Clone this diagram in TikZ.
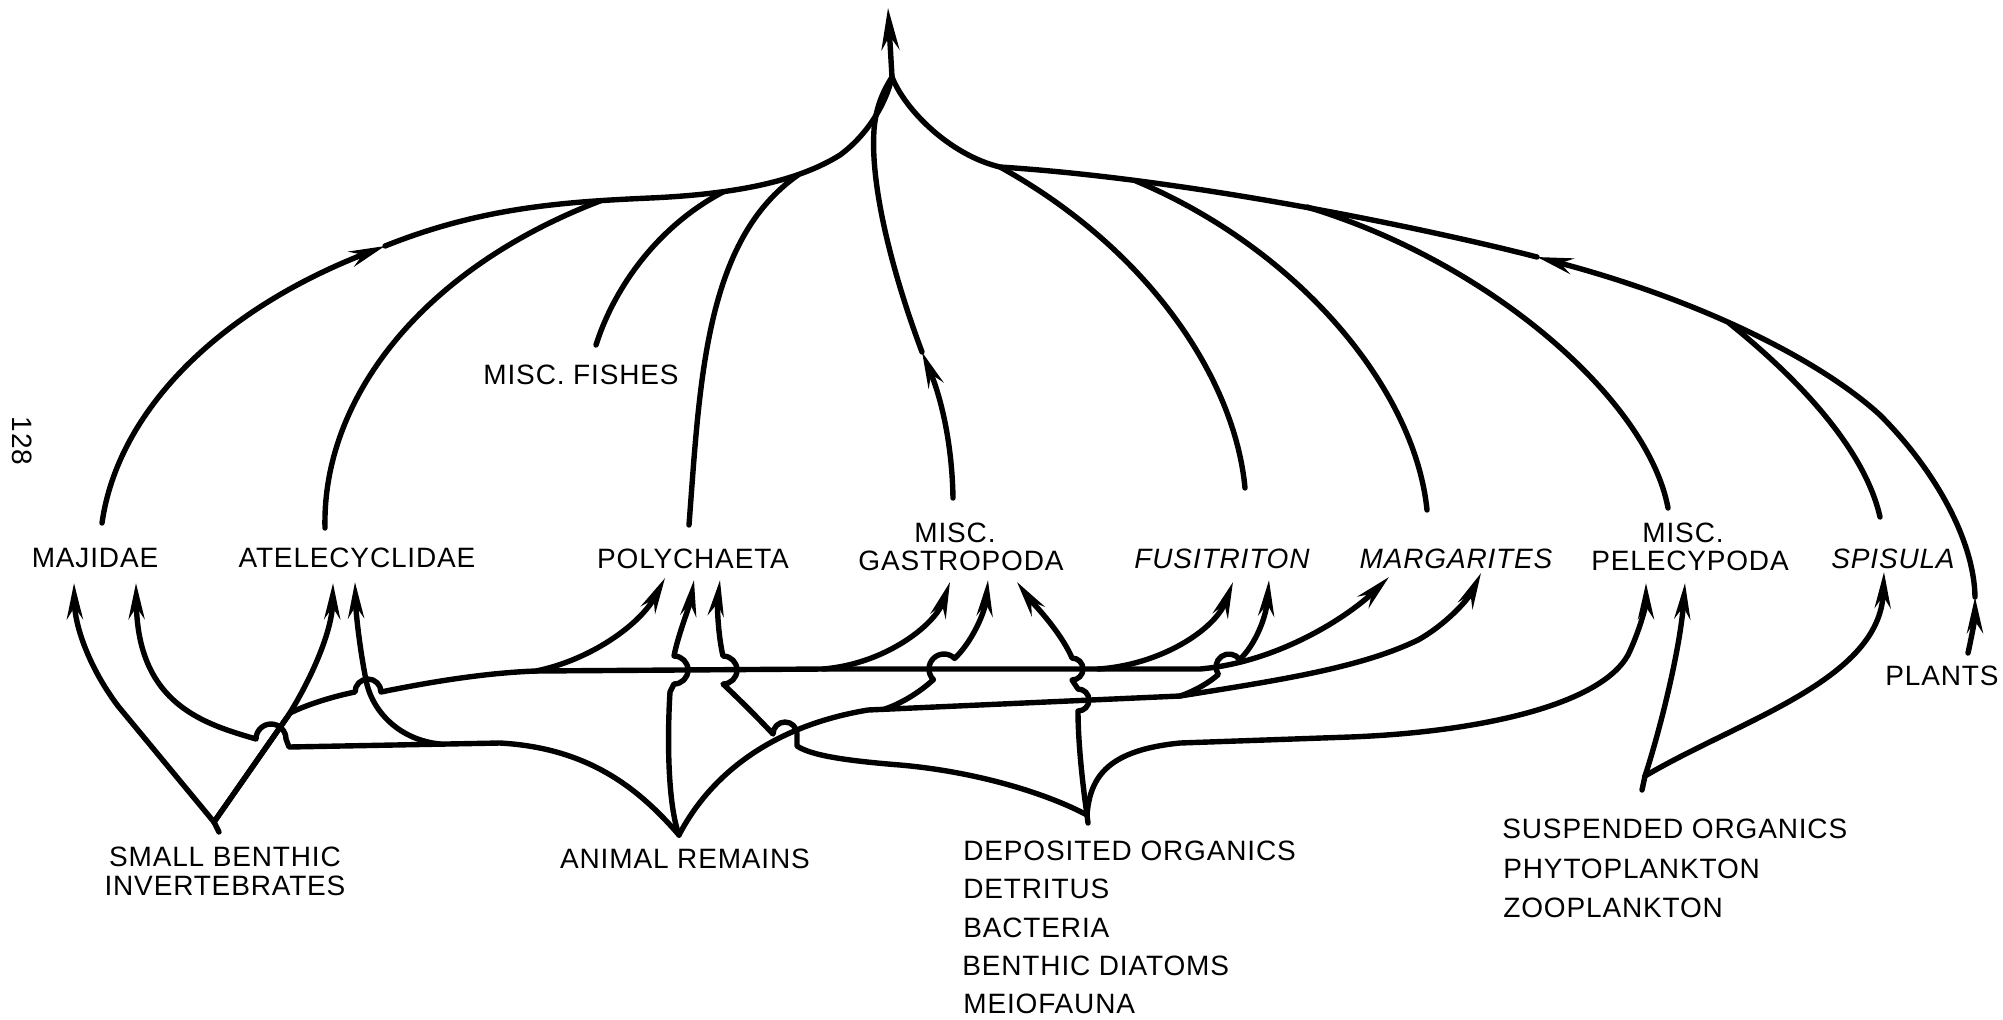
\documentclass[tikz,border=0pt]{standalone}
\usepackage{fontspec}
\setmainfont{Liberation Sans}[LetterSpace=3]
\usetikzlibrary{arrows.meta}
\begin{document}
\begin{tikzpicture}[x=0.5pt,y=-0.5pt,
  fline/.style={line width=2.7pt, line cap=round, line join=round},
  arrowed/.style={-{Stealth[length=18pt,width=8pt,inset=6pt]}},
  bigarrow/.style={-{Stealth[length=21pt,width=9pt,inset=7pt]}},
  lab/.style={font=\fontsize{14}{16}\selectfont, inner sep=0pt, anchor=base},
  ital/.style={font=\fontsize{14}{16}\selectfont\itshape, inner sep=0pt, anchor=base},
  lst/.style={font=\fontsize{14}{16}\selectfont, inner sep=0pt, anchor=base west}]
\useasboundingbox (0,0) rectangle (2003,1019);

% ---------- labels ----------
\node[lab] (maj)   at (95,567)   {MAJIDAE};
\node[lab] (atel)  at (357,567)  {ATELECYCLIDAE};
\node[lab] (poly)  at (693,568)  {POLYCHAETA};
\node[lab] (gasA)  at (955,542)  {MISC.};
\node[lab] (gasB)  at (961,570)  {GASTROPODA};
\node[ital] (fus)  at (1222,568) {FUSITRITON};
\node[ital] (mar)  at (1456,568) {MARGARITES};
\node[lab] (pelA)  at (1683,542) {MISC.};
\node[lab] (pelB)  at (1690,570) {PELECYPODA};
\node[ital] (spi)  at (1893,568) {SPISULA};
\node[lab] (plants) at (1942,685) {PLANTS};
\node[lab] (fish)  at (581,384)  {MISC. FISHES};
\node[lab] (sbiA)  at (225,866)  {SMALL BENTHIC};
\node[lab] (sbiB)  at (225,895)  {INVERTEBRATES};
\node[lab] (ar)    at (685,868)  {ANIMAL REMAINS};
\node[lst] (do1) at (963,860)    {DEPOSITED ORGANICS};
\node[lst] (do2) at (963,898)    {DETRITUS};
\node[lst] (do3) at (963,937)    {BACTERIA};
\node[lst] (do4) at (962,975)    {BENTHIC DIATOMS};
\node[lst] (do5) at (963,1013)   {MEIOFAUNA};
\node[lst] (so1) at (1502,838)   {SUSPENDED ORGANICS};
\node[lst] (so2) at (1503,878)   {PHYTOPLANKTON};
\node[lst] (so3) at (1503,917)   {ZOOPLANKTON};
\node[lab, rotate=-90, anchor=center] (pg) at (22,441) {128};

% ---------- points ----------
\coordinate (top)  at (888,8);
\coordinate (apex) at (892,77);
% upward line starts
\coordinate (umaj)  at (102,523);
\coordinate (uatel) at (325,528);
\coordinate (ufish) at (596,345);
\coordinate (upoly) at (689,525);
\coordinate (ugas)  at (953,498);
\coordinate (ufus)  at (1245,488);
\coordinate (umar)  at (1427,510);
\coordinate (upel)  at (1668,508);
\coordinate (uspi)  at (1880,517);
\coordinate (upl)   at (1968,653);
% arrow heads along the upper lines
\coordinate (hmaj) at (385,246);
\coordinate (hgas) at (922,352);
\coordinate (hpl)  at (1975,597);
\coordinate (hr)   at (1537,257);
% food sources
\coordinate (S) at (214,822);
\coordinate (A) at (679,835);
\coordinate (D) at (1087,815);
\coordinate (P) at (1645,776);
% arrow tips under the consumers
\coordinate (tmaj1)  at (74,583);
\coordinate (tmaj2)  at (136,583);
\coordinate (tatel1) at (333,583);
\coordinate (tatel2) at (355,582);
\coordinate (tpoly1) at (665,578);
\coordinate (tpoly2) at (694,580);
\coordinate (tpoly3) at (720,580);
\coordinate (tgas1)  at (950,582);
\coordinate (tgas2)  at (988,580);
\coordinate (tgas3)  at (1017,582);
\coordinate (tfus1)  at (1233,582);
\coordinate (tfus2)  at (1269,580);
\coordinate (tmar1)  at (1389,577);
\coordinate (tmar2)  at (1481,573);
\coordinate (tpel1)  at (1646,583);
\coordinate (tpel2)  at (1685,583);
\coordinate (tspi)   at (1884,572);
% branching points
\coordinate (e3a) at (536,671);
\coordinate (e3b) at (823,669);
\coordinate (e3c) at (1098,669);
\coordinate (e3d) at (1200,669);
\coordinate (a1) at (500,743);
\coordinate (a2) at (440,744);
\coordinate (a3) at (868,710);
\coordinate (a4) at (1180,696);
\coordinate (a5) at (885,709);

% ---------- upper part: consumers to the top ----------
\draw[fline,bigarrow] (apex) -- (top);
\draw[fline,arrowed] (umaj) .. controls (118,410) and (220,310) .. (hmaj);
\draw[fline] (hmaj) .. controls (480,208) and (560,202) .. (650,198)
  .. controls (740,194) and (800,180) .. (840,155)
  .. controls (870,133) and (887,100) .. (apex);
\draw[fline] (uatel) .. controls (322,400) and (420,270) .. (600,201);
\draw[fline] (ufish) .. controls (615,285) and (660,225) .. (723,192);
\draw[fline] (upoly) .. controls (700,380) and (705,240) .. (798,175);
\draw[fline,arrowed] (ugas) .. controls (952,440) and (940,395) .. (hgas);
\draw[fline] (hgas) .. controls (895,280) and (870,190) .. (874,130)
  .. controls (876,105) and (884,90) .. (apex);
\draw[fline,arrowed] (upl) .. controls (1972,635) and (1975,618) .. (hpl);
\draw[fline,arrowed] (hpl) .. controls (1974,540) and (1935,470) .. (1880,415)
  .. controls (1820,360) and (1700,300) .. (hr);
\draw[fline] (hr) .. controls (1440,232) and (1200,180) .. (1000,167)
  .. controls (950,155) and (905,110) .. (apex);
\draw[fline] (ufus) .. controls (1235,380) and (1150,250) .. (1000,167);
\draw[fline] (umar) .. controls (1415,390) and (1300,250) .. (1136,181);
\draw[fline] (upel) .. controls (1648,400) and (1490,262) .. (1307,207);
\draw[fline] (uspi) .. controls (1865,450) and (1800,380) .. (1729,323);

% ---------- small benthic invertebrates ----------
\draw[fline] (S) -- (219,832);
\draw[fline,arrowed] (S) -- (118,706) .. controls (88,666) and (75,625) .. (tmaj1);
\draw[fline,arrowed] (S) -- (288,716) .. controls (313,676) and (332,630) .. (tatel1);
\draw[fline,arrowed] (S) -- (290,713) .. controls (308,704) and (335,696) .. (355,692)
  arc[start angle=180,end angle=360,radius=13]
  .. controls (420,684) and (480,673) .. (e3a) -- (e3b) -- (e3c) -- (e3d)
  .. controls (1280,662) and (1350,615) .. (tmar1);
\draw[fline,arrowed] (e3a) .. controls (590,660) and (640,625) .. (tpoly1);
\draw[fline,arrowed] (e3b) .. controls (885,664) and (935,625) .. (tgas1);
\draw[fline,arrowed] (e3c) .. controls (1160,665) and (1215,630) .. (tfus1);

% ---------- animal remains ----------
\draw[fline,arrowed] (A) .. controls (640,790) and (590,748) .. (a1) -- (289,747) -- (286,739)
  arc[start angle=0,end angle=-180,radius=15]
  .. controls (205,724) and (138,705) .. (tmaj2);
\draw[fline,arrowed] (a2) .. controls (400,740) and (372,712) .. (366,680)
  .. controls (360,650) and (356,615) .. (tatel2);
\draw[fline,arrowed] (A) .. controls (668,805) and (667,740) .. (670,692) -- (674,684)
  arc[start angle=90,end angle=-90,radius=14]
  .. controls (678,635) and (690,605) .. (tpoly2);
\draw[fline,arrowed] (A) .. controls (705,785) and (760,728) .. (a3) -- (a4)
  .. controls (1280,680) and (1360,668) .. (1418,640)
  .. controls (1445,625) and (1468,600) .. (tmar2);
\draw[fline,arrowed] (a5) .. controls (905,702) and (922,690) .. (933.39,679.61)
  arc[start angle=135,end angle=315,radius=15]
  .. controls (972,642) and (985,612) .. (tgas2);
\draw[fline,arrowed] (a4) .. controls (1195,691) and (1210,682) .. (1218.35,674.46)
  arc[start angle=145,end angle=325,radius=13]
  .. controls (1255,645) and (1266,618) .. (tfus2);

% ---------- deposited organics ----------
\draw[fline] (D) -- (1088,823);
\draw[fline,arrowed] (D) .. controls (1050,795) and (980,772) .. (900,765)
  .. controls (850,761) and (812,756) .. (797,746) -- (797,734)
  arc[start angle=0,end angle=-180,radius=12]
  .. controls (758,718) and (740,700) .. (723,684)
  arc[start angle=90,end angle=-90,radius=14]
  .. controls (718,635) and (717,605) .. (tpoly3);
\draw[fline,arrowed] (D) .. controls (1082,780) and (1078,740) .. (1078,711)
  arc[start angle=90,end angle=-90,radius=11] -- (1072,680)
  arc[start angle=90,end angle=-90,radius=11]
  .. controls (1060,630) and (1030,600) .. (tgas3);
\draw[fline,arrowed] (D) .. controls (1090,775) and (1110,750) .. (1180,743) -- (1350,737)
  .. controls (1480,732) and (1600,705) .. (1628,655)
  .. controls (1640,630) and (1646,605) .. (tpel1);

% ---------- suspended organics ----------
\draw[fline] (P) -- (1642,790);
\draw[fline,arrowed] (P) .. controls (1660,730) and (1680,650) .. (tpel2);
\draw[fline,arrowed] (P) .. controls (1740,720) and (1880,680) .. (tspi);
\end{tikzpicture}
\end{document}
